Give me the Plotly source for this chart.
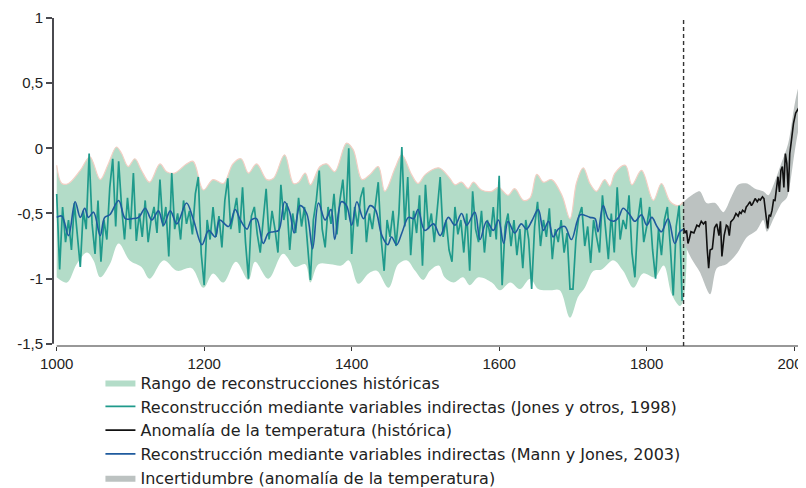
import plotly.graph_objects as go

# ---------------- data ----------------
range_up_years = [1000, 1007, 1016, 1032, 1045, 1059, 1070, 1081, 1088, 1097, 1106, 1115, 1126, 1140, 1149,
                  1160, 1176, 1185, 1199, 1212, 1226, 1239, 1250, 1260, 1271, 1285, 1294, 1309, 1321, 1328,
                  1337, 1344, 1357, 1366, 1377, 1393, 1402, 1414, 1425, 1436, 1445, 1459, 1468, 1481, 1490,
                  1500, 1518, 1533, 1540, 1549, 1558, 1565, 1576, 1590, 1599, 1612, 1621, 1633, 1642, 1651,
                  1660, 1671, 1685, 1696, 1705, 1714, 1723, 1732, 1743, 1750, 1757, 1771, 1780, 1793, 1809,
                  1820, 1832, 1843, 1850]
range_up = [-0.13, -0.27, -0.27, -0.17, -0.065, -0.24, -0.12, 0.01, -0.04, -0.14, -0.08, -0.17, -0.26, -0.12, -0.18,
            -0.19, -0.12, -0.10, -0.32, -0.24, -0.27, -0.12, -0.08, -0.19, -0.12, -0.24, -0.23, -0.05, -0.27, -0.26,
            -0.19, -0.28, -0.14, -0.12, -0.18, 0.04, -0.01, -0.24, -0.20, -0.14, -0.33, -0.15, -0.05, -0.20, -0.27,
            -0.20, -0.15, -0.23, -0.28, -0.26, -0.31, -0.26, -0.32, -0.33, -0.30, -0.36, -0.31, -0.40, -0.38, -0.20,
            -0.26, -0.24, -0.36, -0.54, -0.26, -0.15, -0.27, -0.33, -0.24, -0.29, -0.19, -0.13, -0.28, -0.17, -0.40,
            -0.27, -0.41, -0.44, -0.41]
range_lo_years = [1000, 1014, 1027, 1041, 1050, 1059, 1072, 1084, 1099, 1115, 1126, 1145, 1163, 1183, 1199,
                  1212, 1226, 1243, 1260, 1269, 1287, 1307, 1323, 1337, 1344, 1355, 1371, 1386, 1396, 1409,
                  1423, 1434, 1450, 1463, 1475, 1486, 1497, 1506, 1518, 1526, 1538, 1551, 1560, 1572, 1590,
                  1601, 1615, 1628, 1642, 1653, 1669, 1682, 1696, 1707, 1716, 1728, 1739, 1755, 1768, 1782,
                  1795, 1811, 1823, 1834, 1845, 1850]
range_lo = [-0.99, -1.03, -0.89, -0.80, -0.86, -0.99, -0.89, -0.73, -0.86, -0.91, -1.00, -0.86, -0.94, -0.92, -1.07,
            -0.96, -1.03, -0.87, -1.01, -0.87, -1.00, -0.81, -0.91, -0.89, -1.03, -0.89, -0.89, -0.90, -0.86, -1.04,
            -0.96, -0.94, -1.07, -0.89, -0.86, -0.94, -1.01, -0.94, -0.90, -0.99, -1.03, -0.99, -1.05, -0.99, -1.03,
            -1.09, -1.03, -1.08, -1.00, -1.08, -1.09, -1.09, -1.30, -1.14, -1.07, -0.94, -0.93, -0.86, -0.94, -1.07,
            -0.96, -0.99, -0.90, -1.12, -1.21, -1.16]

jones_start = 1000
jones_step = 4
jones = [
    -0.35, -0.93, -0.45, -0.72, -0.55, -0.78, -0.42, -0.66, -0.91, -0.48,
    -0.62, -0.04, -0.58, -0.81, -0.40, -0.87, -0.55, -0.70, -0.30, -0.08,
    -0.60, -0.10, -0.45, -0.70, -0.38, -0.62, -0.19, -0.71, -0.50, -0.68,
    -0.40, -0.72, -0.55, -0.45, -0.65, -0.24, -0.60, -0.45, -0.83, -0.19,
    -0.62, -0.50, -0.70, -0.40, -0.58, -0.48, -0.66, -0.35, -0.22, -0.81,
    -1.05, -0.55, -0.70, -0.45, -0.68, -0.52, -0.76, -0.40, -0.23, -0.62,
    -0.50, -0.38, -0.65, -0.30, -0.72, -1.00, -0.52, -0.45, -0.66, -0.80,
    -0.55, -0.31, -0.70, -0.48, -0.62, -0.80, -0.28, -0.55, -0.42, -0.78,
    -0.50, -0.65, -0.38, -0.60, -0.45, -0.70, -1.01, -0.55, -0.40, -0.17,
    -0.62, -0.76, -0.45, -0.58, -0.35, -0.66, -0.40, -0.24, -0.55, 0.00,
    -0.81, -0.45, -0.60, -0.38, -0.30, -0.72, -0.50, -0.62, -0.45, -0.26,
    -0.70, -0.94, -0.55, -0.68, -0.48, -0.75, -0.50, 0.01, -0.60, -0.22,
    -0.82, -0.48, -0.65, -0.36, -0.90, -0.28, -0.62, -0.50, -0.72, -0.45,
    -0.22, -0.68, -0.55, -0.78, -0.87, -0.45, -0.66, -0.55, -0.80, -0.50,
    -0.94, -0.33, -0.62, -0.72, -0.48, -0.80, -0.55, -0.68, -0.45, -0.70,
    -0.21, -1.05, -0.60, -0.50, -0.75, -0.55, -0.82, -0.62, -0.92, -0.55,
    -0.70, -1.08, -0.60, -0.41, -0.75, -0.55, -0.68, -0.46, -0.85, -0.62,
    -0.72, -0.55, -0.80, -0.65, -1.08, -1.08, -0.70, -0.52, -0.45, -0.75,
    -0.60, -0.88, -0.55, -0.68, -0.80, -0.36, -0.62, -0.85, -0.50, -0.80,
    -0.30, -0.70, -0.55, -0.62, -0.36, -0.80, -0.99, -0.55, -0.38, -0.72,
    -0.60, -0.45, -0.78, -1.00, -0.62, -0.82, -0.55, -0.45, -0.75, -1.13,
    -0.60, -0.44, -1.17,
]
jones_years = [jones_start + jones_step * i for i in range(len(jones))]

mann_years = [1000, 1007, 1016, 1025, 1032, 1038, 1043, 1050, 1059, 1065, 1072, 1084, 1093, 1102, 1111,
              1120, 1129, 1138, 1145, 1154, 1163, 1176, 1185, 1197, 1206, 1215, 1221, 1233, 1242, 1249,
              1258, 1264, 1271, 1280, 1287, 1294, 1301, 1309, 1316, 1322, 1330, 1339, 1347, 1355, 1364,
              1372, 1377, 1386, 1393, 1400, 1407, 1416, 1425, 1432, 1441, 1449, 1454, 1461, 1468, 1477,
              1484, 1490, 1499, 1511, 1520, 1531, 1540, 1549, 1556, 1567, 1574, 1583, 1592, 1599, 1606,
              1612, 1621, 1630, 1637, 1644, 1653, 1660, 1667, 1673, 1680, 1689, 1698, 1710, 1723, 1730,
              1734, 1741, 1748, 1755, 1762, 1768, 1777, 1784, 1793, 1800, 1807, 1814, 1820, 1829, 1838,
              1845, 1850]
mann = [-0.53, -0.52, -0.67, -0.41, -0.53, -0.46, -0.53, -0.49, -0.67, -0.53, -0.51, -0.40, -0.54, -0.54, -0.53,
        -0.46, -0.55, -0.48, -0.59, -0.48, -0.58, -0.42, -0.54, -0.74, -0.63, -0.68, -0.55, -0.60, -0.47, -0.55,
        -0.62, -0.55, -0.54, -0.73, -0.65, -0.64, -0.63, -0.41, -0.49, -0.65, -0.44, -0.50, -0.77, -0.42, -0.55,
        -0.47, -0.70, -0.41, -0.44, -0.59, -0.41, -0.54, -0.44, -0.47, -0.67, -0.74, -0.68, -0.74, -0.65, -0.53,
        -0.54, -0.47, -0.63, -0.58, -0.67, -0.53, -0.59, -0.50, -0.59, -0.49, -0.70, -0.56, -0.63, -0.55, -0.73,
        -0.56, -0.65, -0.58, -0.62, -0.56, -0.47, -0.63, -0.56, -0.68, -0.62, -0.60, -0.70, -0.51, -0.53, -0.54,
        -0.64, -0.44, -0.54, -0.56, -0.53, -0.46, -0.51, -0.56, -0.51, -0.59, -0.53, -0.60, -0.64, -0.54, -0.73,
        -0.64, -0.62]

temp_years = [1850, 1852, 1854, 1856, 1858, 1860, 1864, 1868, 1871, 1874, 1877, 1880, 1882, 1884, 1886,
              1889, 1892, 1895, 1898, 1900, 1902, 1905, 1908, 1910, 1912, 1914, 1918, 1921, 1924, 1926,
              1928, 1930, 1933, 1935, 1937, 1940, 1942, 1944, 1947, 1950, 1952, 1954, 1957, 1959, 1962,
              1964, 1966, 1968, 1970, 1972, 1974, 1976, 1978, 1980, 1982, 1984, 1986, 1988, 1990, 1992,
              1994, 1996, 1999, 2002, 2005, 2007, 2010]
temp = [-0.61, -0.65, -0.63, -0.73, -0.69, -0.64, -0.65, -0.59, -0.60, -0.56, -0.58, -0.56, -0.77, -0.92, -0.78,
        -0.77, -0.61, -0.58, -0.67, -0.56, -0.83, -0.67, -0.59, -0.60, -0.67, -0.565, -0.54, -0.50, -0.52, -0.49,
        -0.50, -0.475, -0.49, -0.45, -0.436, -0.41, -0.44, -0.423, -0.385, -0.41, -0.39, -0.397, -0.372, -0.385, -0.526,
        -0.615, -0.51, -0.52, -0.475, -0.397, -0.40, -0.308, -0.218, -0.334, -0.167, -0.14, -0.30, -0.04, -0.115, -0.334,
        -0.04, 0.05, 0.19, 0.27, 0.30, 0.32, 0.41]

unc_up_years = [1850, 1861, 1872, 1881, 1893, 1904, 1915, 1924, 1936, 1947, 1958, 1965, 1972, 1981, 1992, 2001, 2010, 2014]
unc_up = [-0.41, -0.36, -0.33, -0.42, -0.42, -0.49, -0.37, -0.28, -0.27, -0.31, -0.33, -0.36, -0.28, -0.14, 0.04, 0.35, 0.56, 0.60]
unc_lo_years = [1850, 1861, 1872, 1886, 1895, 1908, 1922, 1936, 1949, 1958, 1963, 1972, 1983, 1990, 1995, 2000, 2005, 2014]
unc_lo = [-0.72, -0.85, -0.95, -1.12, -0.92, -0.89, -0.81, -0.68, -0.63, -0.55, -0.64, -0.54, -0.42, -0.38, -0.25, -0.05, 0.12, 0.33]

x_ticks = [1000, 1200, 1400, 1600, 1800, 2000]
y_ticks = [1, 0.5, 0, -0.5, -1, -1.5]
y_ticktext = ["1", "0,5", "0", "-0,5", "-1", "-1,5"]
split_year = 1850

names = ["Rango de reconstrucciones históricas",
         "Reconstrucción mediante variables indirectas (Jones y otros, 1998)",
         "Anomalía de la temperatura (histórica)",
         "Reconstrucción mediante variables indirectas (Mann y Jones, 2003)",
         "Incertidumbre (anomalía de la temperatura)"]

# ---------------- figure ----------------
GREEN = "#b3dcc8"
TEAL = "#1f9a8b"
BLUE = "#1f5b9e"
GRAY = "#bcc2c1"

fig = go.Figure()
fig.add_trace(go.Scatter(
    x=range_up_years + range_lo_years[::-1], y=range_up + range_lo[::-1],
    fill="toself", fillcolor=GREEN, line=dict(width=0, shape="spline", smoothing=1),
    mode="lines", name=names[0], legendrank=1, hoverinfo="skip"))
fig.add_trace(go.Scatter(
    x=range_up_years, y=range_up, mode="lines",
    line=dict(color="#f3cfc4", width=1.2, shape="spline", smoothing=1),
    showlegend=False, hoverinfo="skip"))
fig.add_trace(go.Scatter(
    x=unc_up_years + unc_lo_years[::-1], y=unc_up + unc_lo[::-1],
    fill="toself", fillcolor=GRAY, line=dict(width=0, shape="spline", smoothing=0.8),
    mode="lines", name=names[4], legendrank=5, hoverinfo="skip"))
fig.add_trace(go.Scatter(
    x=jones_years, y=jones, mode="lines", line=dict(color=TEAL, width=1.7),
    name=names[1], legendrank=2))
fig.add_trace(go.Scatter(
    x=mann_years, y=mann, mode="lines", line=dict(color=BLUE, width=1.6, shape="spline", smoothing=1),
    name=names[3], legendrank=4))
fig.add_trace(go.Scatter(
    x=temp_years, y=temp, mode="lines", line=dict(color="#111111", width=1.6),
    name=names[2], legendrank=3))

# dashed separator
fig.add_shape(type="line", xref="x", yref="paper", x0=split_year, x1=split_year, y0=0, y1=1,
              line=dict(color="#333333", width=1.4, dash="4px,3px"))
# axis lines (drawn separately like the reference)
fig.add_shape(type="line", xref="x", yref="paper", x0=x_ticks[0], x1=2010, y0=0, y1=0,
              line=dict(color="#333333", width=1.2))
fig.add_shape(type="line", xref="paper", yref="y", x0=0, x1=0, y0=y_ticks[-1], y1=y_ticks[0],
              line=dict(color="#4a4a4f", width=2))

# the page body has an 8px default margin, so the figure is offset by 8px
fig.update_layout(
    width=798, height=480,
    margin=dict(l=45, r=0, t=10, b=142, autoexpand=False),
    plot_bgcolor="white", paper_bgcolor="white",
    font=dict(family="Liberation Sans, Arial, sans-serif", color="#222222"),
    showlegend=True,
    legend=dict(x=0.063, xanchor="left", y=0.255, yref="container", yanchor="top", traceorder="normal",
                font=dict(family="DejaVu Sans, sans-serif", size=16, color="#222222"),
                itemwidth=30, bgcolor="rgba(0,0,0,0)"),
    xaxis=dict(range=[995, 2016], tickvals=x_ticks, showgrid=False, zeroline=False, showline=False,
               automargin=False, ticklabeloverflow="allow",
               ticks="outside", ticklen=4, tickcolor="#333333", tickfont=dict(size=15, color="#222222")),
    yaxis=dict(range=[-1.517, 1.0], tickvals=y_ticks, ticktext=y_ticktext, showgrid=False, zeroline=False,
               showline=False, automargin=False, ticks="outside", ticklen=6, tickwidth=1.5, tickcolor="#4a4a4f",
               tickfont=dict(size=15, color="#222222")),
)

fig.write_html("out.html")
